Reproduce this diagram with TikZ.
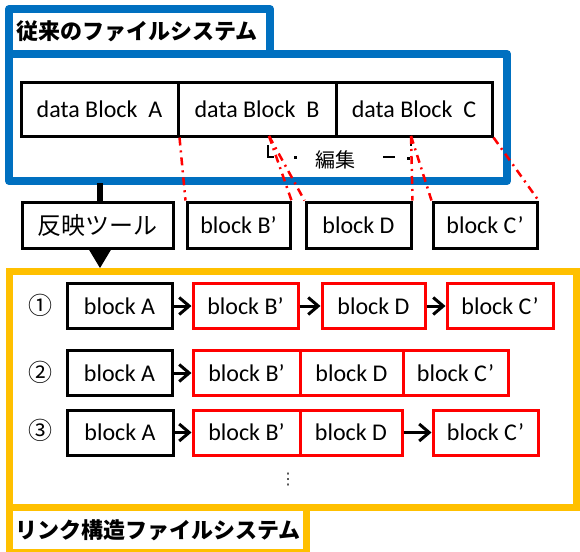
\documentclass[tikz,border=0pt]{standalone}
\usepackage{fontspec}
\setmainfont{Carlito}
\newfontfamily\cjk{Noto Sans CJK JP}
\newfontfamily\dejavu{DejaVu Sans}
\usetikzlibrary{arrows.meta}
\definecolor{fsblue}{HTML}{0070C0}
\definecolor{fsyellow}{HTML}{FFC000}
\definecolor{fsred}{HTML}{FF0000}
\begin{document}
\begin{tikzpicture}[x=1pt,y=-1pt,
  blk/.style={draw=black, line width=3pt, inner sep=0pt, minimum height=45pt, font=\fontsize{24}{28}\selectfont},
  rblk/.style={blk, draw=fsred},
  editline/.style={draw=fsred, line width=2.5pt, dash pattern=on 8pt off 5pt on 2pt off 5pt},
  link/.style={line width=3pt, -{Straight Barb[length=10pt,width=17pt,line width=3pt]}},
  num/.style={font=\cjk\fontsize{24}{28}\selectfont},
  ttl/.style={font=\cjk\bfseries\fontsize{22}{26}\selectfont, anchor=west, inner sep=0pt}
]
\useasboundingbox (0,0) rectangle (580,551);
\fill[white] (0,0) rectangle (580,551);
% ---------- traditional file system (blue) ----------
\draw[fsblue, line width=8pt, line join=round] (9,9) rectangle (270,54);
\draw[fsblue, line width=8pt, line join=round] (9,54) rectangle (507,181);
\node[ttl] (t1) at (16,31) {従来のファイルシステム};

\node[blk, minimum width=157pt, minimum height=54pt] (dA) at (99.5,109) {data Block\ \ A};
\node[blk, minimum width=158pt, minimum height=54pt] (dB) at (257,109) {data Block\ \ B};
\node[blk, minimum width=156pt, minimum height=54pt] (dC) at (414,109) {data Block\ \ C};

% edit callout
\node[font=\cjk\fontsize{20}{24}\selectfont, inner sep=0pt] (edit) at (335,160) {編集};
\draw[line width=2.5pt] (268,145) -- (268,157) -- (274,157);
\fill (293.5,155.5) rectangle (296.5,158.5);
\draw[line width=2.5pt] (383,157) -- (395,157);
\fill (407,156.5) rectangle (410,159.5);
\draw[line width=2pt] (411,140) -- (411,146);

% edited blocks
\node[blk, minimum width=151pt, minimum height=46pt] (tool) at (97.5,225) {\cjk 反映ツール};
\node[blk, minimum width=103pt, minimum height=46pt] (bt) at (238.5,225) {block B’};
\node[blk, minimum width=105pt, minimum height=46pt] (dt) at (358.5,225) {block D};
\node[blk, minimum width=104pt, minimum height=46pt] (ct) at (485,225) {block C’};

\coordinate (cutB) at (269,136);
\coordinate (cutC) at (411,136);
\draw[editline] (dA.south east) -- (bt.north west);
\draw[editline] (cutB) -- (bt.north east);
\draw[editline] (cutB) -- (dt.north west);
\draw[editline] (cutC) -- (dt.north east);
\draw[editline] (cutC) -- (ct.north west);
\draw[editline] (dC.south east) -- (ct.north east);

% reflect tool
\coordinate (blueb) at (100,183);
\coordinate (ytop) at (100,268);
\draw[line width=6pt] (blueb) -- (100,202);
\fill (100,248) ++(-12,0) -- ++(24,0) -- (ytop) -- cycle;

% ---------- link-structured file system (yellow) ----------
\draw[fsyellow, line width=7pt] (9,271) rectangle (576,507);
\draw[fsyellow, line width=7pt] (9,507) rectangle (306,552);
\node[ttl] (t2) at (15,530) {リンク構造ファイルシステム};

% row 1
\node[num] (n1) at (40,305) {①};
\node[blk, minimum width=105pt] (r1a) at (119.5,306) {block A};
\node[rblk, minimum width=105pt] (r1b) at (245.5,306) {block B’};
\node[rblk, minimum width=103pt] (r1d) at (373.5,306) {block D};
\node[rblk, minimum width=106pt] (r1c) at (500,306) {block C’};
\draw[link] (r1a) -- (r1b);
\draw[link] (r1b) -- (r1d);
\draw[link] (r1d) -- (r1c);

% row 2
\node[num] (n2) at (40,372) {②};
\node[blk, minimum width=105pt] (r2a) at (119.5,373) {block A};
\node[rblk, minimum width=107pt] (r2b) at (246.5,373) {block B’};
\node[rblk, minimum width=103pt] (r2d) at (351.5,373) {block D};
\node[rblk, minimum width=105pt] (r2c) at (455.5,373) {block C’};
\draw[link] (r2a) -- (r2b);

% row 3
\node[num] (n3) at (40,430) {③};
\node[blk, minimum width=106pt] (r3a) at (120,432.5) {block A};
\node[rblk, minimum width=107pt] (r3b) at (246.5,432.5) {block B’};
\node[rblk, minimum width=102pt] (r3d) at (351,432.5) {block D};
\node[rblk, minimum width=105pt] (r3c) at (485.5,432.5) {block C’};
\draw[link] (r3a) -- (r3b);
\draw[link] (r3d) -- (r3c);

\node[font=\dejavu\fontsize{16}{18}\selectfont, text=black!80] (more) at (288,480) {⋮};
\end{tikzpicture}
\end{document}
